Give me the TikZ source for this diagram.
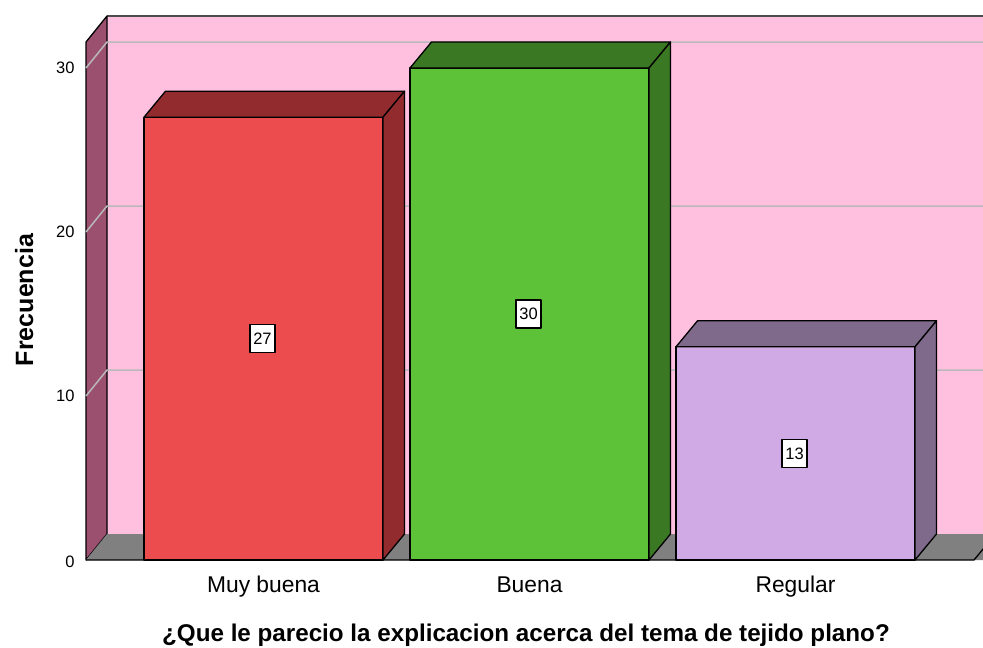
\documentclass[tikz,border=0pt]{standalone}
\usepackage{fontspec}
\setmainfont{Liberation Sans}
\usetikzlibrary{calc}
\definecolor{pared}{RGB}{255,192,224}
\definecolor{lado}{RGB}{155,80,112}
\definecolor{piso}{RGB}{128,128,128}
\definecolor{rejilla}{RGB}{185,185,185}
\definecolor{rojo}{RGB}{236,76,78}
\definecolor{rojoosc}{RGB}{145,43,46}
\definecolor{verde}{RGB}{94,194,56}
\definecolor{verdeosc}{RGB}{58,120,35}
\definecolor{lila}{RGB}{208,170,228}
\definecolor{lilaosc}{RGB}{127,106,140}

\begin{document}
\begin{tikzpicture}[x=1pt,y=-1pt,line join=round,
    borde/.style={draw=black,line width=1.3pt},
    valor/.style={draw=black,fill=white,line width=1.2pt,inner sep=0pt,minimum width=25pt,minimum height=28pt,font=\fontsize{16.5}{18}\selectfont},
    tick/.style={anchor=east,font=\fontsize{16.5}{18}\selectfont},
    categ/.style={anchor=base,font=\fontsize{22.8}{25}\selectfont}]
    \useasboundingbox (0,0) rectangle (983,648);
    \begin{scope}
        \clip (0,0) rectangle (983,648);
        % walls and floor
        \fill[pared] (107,16) rectangle (1010,534);
        \draw[line width=1.5pt,black!70] (107,16) -- (1010,16);
        \filldraw[fill=lado,borde] (86,560) -- (86,42) -- (107,16) -- (107,534) -- cycle;
        \fill[piso] (86,560) -- (107,534) -- (1010,534) -- (989,560) -- cycle;
        \draw[borde] (86,560) -- (974,560) -- (995.5,534);
        \foreach \v in {10,20,30}
            \draw[rejilla,line width=1.5pt] (86,{560-16.4*\v}) -- (107,{534-16.4*\v}) -- (1010,{534-16.4*\v});
    \end{scope}
    % y axis
    \node[tick] (t0) at (78,562) {0};
    \node[tick] (t10) at (78,396) {10};
    \node[tick] (t20) at (78,232) {20};
    \node[tick] (t30) at (78,68) {30};
    % bars
    \foreach \x/\v/\cf/\cd/\n/\lab in {144/27/rojo/rojoosc/1/Muy buena,410/30/verde/verdeosc/2/Buena,676/13/lila/lilaosc/3/Regular}{
        \pgfmathsetmacro{\T}{560-16.4*\v}
        \pgfmathsetmacro{\R}{\x+239}
        \filldraw[fill=\cf,borde] (\x,560) rectangle (\R,\T);
        \filldraw[fill=\cd,borde] (\x,\T) -- ++(21.5,-26) -- ++(239,0) -- (\R,\T) -- cycle;
        \filldraw[fill=\cd,borde] (\R,560) -- (\R,\T) -- ++(21.5,-26) -- ++(0,{560-\T}) -- cycle;
        \node[valor] (v\n) at ({\x+118.5},{(560+\T)/2}) {\v};
        \node[categ] (c\n) at ({\x+119.5},592) {\lab};
    }
    % titles
    \node[anchor=base,font=\bfseries\fontsize{24.2}{26}\selectfont] (titulo) at (526,641) {¿Que le parecio la explicacion acerca del tema de tejido plano?};
    \node[anchor=base,rotate=90,font=\bfseries\fontsize{25}{27}\selectfont] (frec) at (33,300) {Frecuencia};
\end{tikzpicture}
\end{document}
